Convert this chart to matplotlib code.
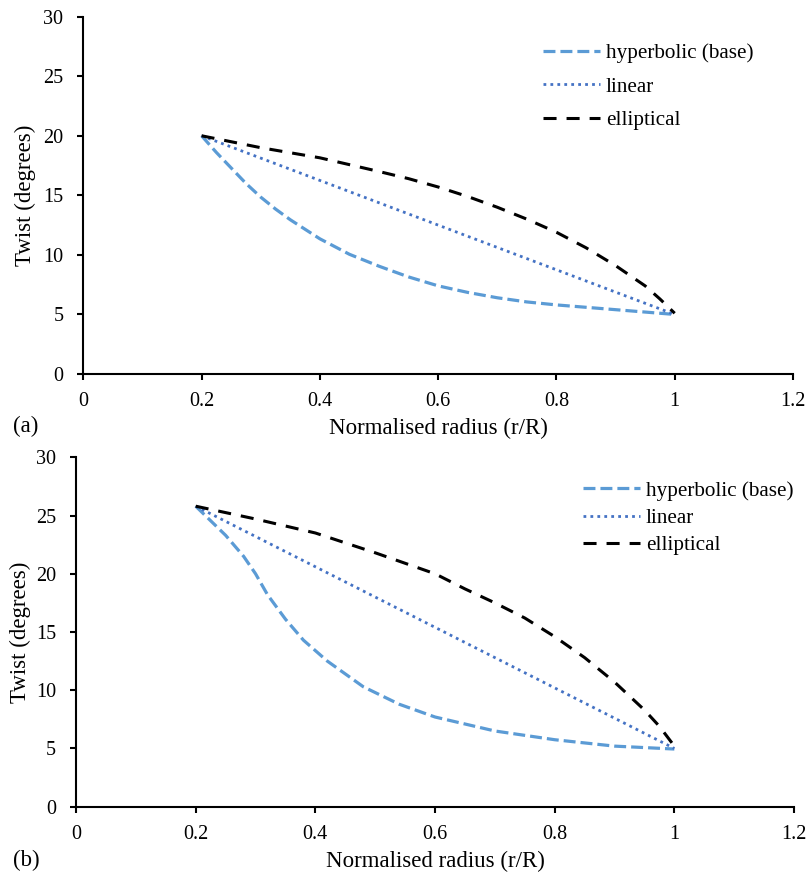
import matplotlib
matplotlib.use('Agg')
import matplotlib.pyplot as plt

plt.rcParams['font.family'] = ['Liberation Serif', 'DejaVu Serif']
plt.rcParams['lines.scale_dashes'] = False

# panel (a)
r_hyp_a = [0.2, 0.225, 0.25, 0.275, 0.3, 0.325, 0.35, 0.4, 0.45, 0.5, 0.55, 0.6, 0.65, 0.7, 0.75, 0.8, 0.85, 0.9, 0.95, 1.0]
tw_hyp_a = [20.0, 18.6, 17.3, 16.0, 14.85, 13.85, 12.95, 11.35, 10.05, 9.05, 8.15, 7.4, 6.85, 6.4, 6.05, 5.8, 5.6, 5.4, 5.2, 5.0]
r_lin_a = [0.2, 1.0]
tw_lin_a = [20.0, 5.0]
r_ell_a = [0.2, 0.3, 0.4, 0.5, 0.55, 0.6, 0.65, 0.7, 0.75, 0.8, 0.85, 0.9, 0.95, 0.975, 1.0]
tw_ell_a = [20.0, 19.0, 18.15, 17.0, 16.4, 15.7, 14.9, 14.0, 13.0, 11.9, 10.6, 9.1, 7.4, 6.3, 5.1]

# panel (b)
r_hyp_b = [0.2, 0.25, 0.28, 0.3, 0.32, 0.35, 0.38, 0.42, 0.48, 0.54, 0.6, 0.7, 0.8, 0.9, 1.0]
tw_hyp_b = [25.8, 23.3, 21.5, 20.0, 18.2, 16.1, 14.3, 12.5, 10.3, 8.8, 7.7, 6.5, 5.75, 5.2, 4.95]
r_lin_b = [0.2, 1.0]
tw_lin_b = [25.8, 5.0]
r_ell_b = [0.2, 0.3, 0.4, 0.5, 0.55, 0.6, 0.65, 0.7, 0.75, 0.8, 0.85, 0.9, 0.95, 0.975, 1.0]
tw_ell_b = [25.8, 24.7, 23.5, 21.8, 20.9, 20.0, 18.7, 17.5, 16.2, 14.6, 12.8, 10.7, 8.3, 6.9, 5.2]

labels = ['hyperbolic (base)', 'linear', 'elliptical']
x_ticks = [0, 0.2, 0.4, 0.6, 0.8, 1.0, 1.2]
x_tick_labels = ['0', '0.2', '0.4', '0.6', '0.8', '1', '1.2']
y_ticks = [0, 5, 10, 15, 20, 25, 30]


def draw_panel(ax, hyp, lin, ell):
    ax.plot(hyp[0], hyp[1], color='#5B9BD5', lw=2.3, dashes=(8.6, 3.6), label=labels[0])
    ax.plot(lin[0], lin[1], color='#4472C4', lw=2.0, dashes=(2.0, 3.0), label=labels[1])
    ax.plot(ell[0], ell[1], color='black', lw=2.2, dashes=(9.4, 7.2), label=labels[2])
    ax.set_xlim(0, 1.2)
    ax.set_ylim(0, 30)
    ax.set_xticks(x_ticks)
    ax.set_xticklabels(x_tick_labels)
    ax.set_yticks(y_ticks)
    for s in ['top', 'right']:
        ax.spines[s].set_visible(False)
    for s in ['left', 'bottom']:
        ax.spines[s].set_linewidth(1.5)
    ax.tick_params(axis='both', direction='out', length=4.3, width=1.5, labelsize=14.5)
    ax.tick_params(axis='x', pad=9)
    ax.tick_params(axis='y', pad=10)
    ax.set_xlabel('Normalised radius (r/R)', fontsize=16.5, labelpad=4.5)
    ax.set_ylabel('Twist (degrees)', fontsize=16.5, va='center')


fig = plt.figure(figsize=(8.08, 8.72), dpi=100)
ax1 = fig.add_axes([0.1031, 0.5711, 0.8783, 0.4098])
ax2 = fig.add_axes([0.0941, 0.0749, 0.8886, 0.4007])

draw_panel(ax1, (r_hyp_a, tw_hyp_a), (r_lin_a, tw_lin_a), (r_ell_a, tw_ell_a))
draw_panel(ax2, (r_hyp_b, tw_hyp_b), (r_lin_b, tw_lin_b), (r_ell_b, tw_ell_b))

ax1.yaxis.set_label_coords(-0.0821, 0.5)
ax2.yaxis.set_label_coords(-0.0780, 0.5)

ax1.legend(loc='upper left', bbox_to_anchor=(0.6478, 0.925), frameon=False, fontsize=15.2,
           borderpad=0, borderaxespad=0, handlelength=2.7, handletextpad=0.28, labelspacing=0.65)
ax2.legend(loc='upper left', bbox_to_anchor=(0.706, 0.932), frameon=False, fontsize=15.2,
           borderpad=0, borderaxespad=0, handlelength=2.7, handletextpad=0.28, labelspacing=0.355)

fig.text(13 / 808, 1 - 432 / 872, '(a)', fontsize=16.5, va='baseline')
fig.text(13 / 808, 1 - 866 / 872, '(b)', fontsize=16.5, va='baseline')

fig.savefig('out.png', dpi=100)
